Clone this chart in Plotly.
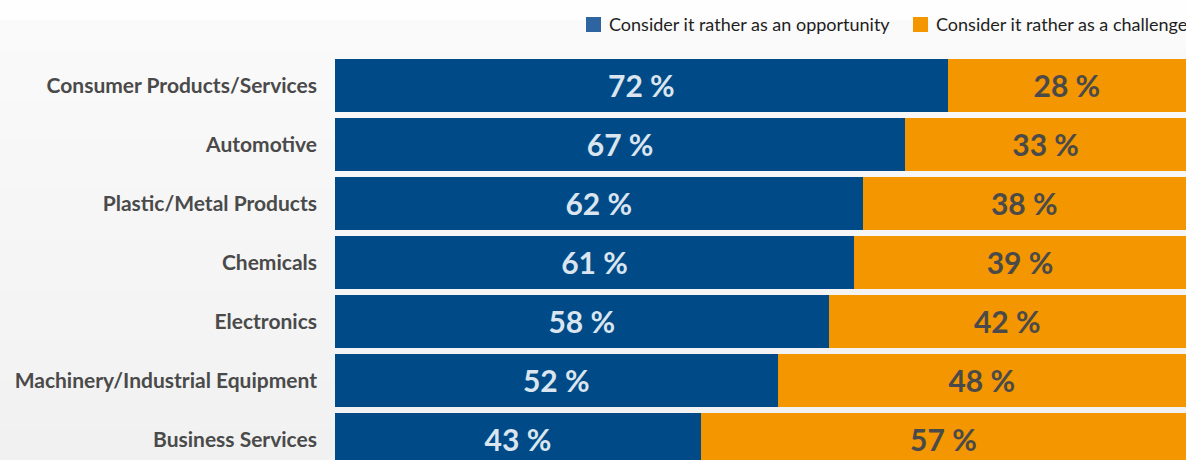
import plotly.graph_objects as go

# Survey: how each sector views the topic
sectors = [
    "Consumer Products/Services",
    "Automotive",
    "Plastic/Metal Products",
    "Chemicals",
    "Electronics",
    "Machinery/Industrial Equipment",
    "Business Services",
]
opportunity = [72, 67, 62, 61, 58, 52, 43]
challenge = [28, 33, 38, 39, 42, 48, 57]
series_names = ["Consider it rather as an opportunity", "Consider it rather as a challenge"]

BLUE = "#004b87"
ORANGE = "#f39600"
LEGEND_BLUE = "#2e65a1"
TEXT_DARK = "#4a4a4a"
FONT = "Lato"

W, H = 1186, 460
LEFT, TOP = 335, 56


def px_x(x):
    """Pixel column -> x domain fraction."""
    return (x - LEFT) / (W - LEFT)


def px_y(y):
    """Pixel row (from top) -> y domain fraction."""
    return (H - y) / (H - TOP)


fig = go.Figure()
fig.add_bar(
    y=sectors, x=opportunity, orientation="h", name=series_names[0],
    marker=dict(color=BLUE, line=dict(width=0)),
    text=[f"{v} %" for v in opportunity], textposition="inside",
    insidetextanchor="middle",
    textfont=dict(family=FONT, size=30, color="#dbe5f0", weight="bold"),
    width=0.9, hoverinfo="skip",
)
fig.add_bar(
    y=sectors, x=challenge, orientation="h", name=series_names[1],
    marker=dict(color=ORANGE, line=dict(width=0)),
    text=[f"{v} %" for v in challenge], textposition="inside",
    insidetextanchor="middle",
    textfont=dict(family=FONT, size=30, color=TEXT_DARK, weight="bold"),
    width=0.9, hoverinfo="skip",
)

# Soft vertical background gradient drawn as thin bands behind the chart
shapes = []
top_white = 20
n_bands = 44
for i in range(n_bands):
    y0 = top_white + (H - top_white) * i / n_bands
    y1 = top_white + (H - top_white) * (i + 1) / n_bands + 0.5
    t = i / (n_bands - 1)
    g = round(250 - t * 9)
    shapes.append(dict(
        type="rect", xref="x domain", yref="y domain", layer="below",
        x0=px_x(0), x1=1.0, y0=px_y(y1), y1=px_y(y0),
        fillcolor=f"rgb({g},{g},{g})", line=dict(width=0),
    ))

# Legend drawn as swatches and labels along the top
legend_items = [(586, LEGEND_BLUE, series_names[0]), (913, ORANGE, series_names[1])]
annotations = []
for x_px, col, label in legend_items:
    shapes.append(dict(
        type="rect", xref="x domain", yref="y domain",
        x0=px_x(x_px), x1=px_x(x_px + 15),
        y0=px_y(32), y1=px_y(17),
        fillcolor=col, line=dict(width=0),
    ))
    annotations.append(dict(
        xref="x domain", yref="y domain",
        x=px_x(x_px + 21), y=px_y(24),
        xanchor="left", yanchor="middle", showarrow=False,
        text=label, font=dict(family=FONT, size=18, color="#1e1e1e"),
    ))

fig.update_layout(
    width=W, height=H,
    barmode="stack",
    bargap=0.1,
    showlegend=False,
    margin=dict(l=LEFT, r=0, t=TOP, b=0, pad=0),
    paper_bgcolor="#fefefe",
    plot_bgcolor="rgba(0,0,0,0)",
    shapes=shapes,
    annotations=annotations,
    xaxis=dict(range=[0, 100], visible=False, fixedrange=True),
    yaxis=dict(
        categoryorder="array", categoryarray=sectors,
        range=[6.353, -0.5],
        showgrid=False, zeroline=False, showline=False, ticks="",
        ticklabelstandoff=17,
        tickfont=dict(family=FONT, size=21, color=TEXT_DARK, weight="bold"),
        fixedrange=True,
    ),
)

fig.write_html("out.html", config={"displayModeBar": False})
